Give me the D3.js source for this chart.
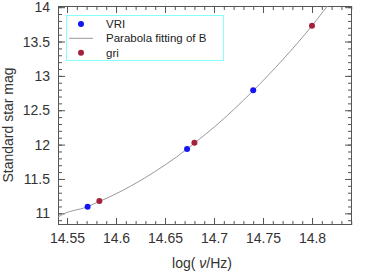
<!DOCTYPE html>
<html><head><meta charset="utf-8">
<script src="https://cdn.jsdelivr.net/npm/d3@7"></script>
<style>
body{margin:0;background:#fff;}
svg text{font-family:"Liberation Sans",Arial,sans-serif;}
</style></head>
<body><svg id="c" width="382" height="272"></svg>
<script>
// Data
const vriX = [14.571, 14.6725, 14.740];
const vriY = [11.096, 11.936, 12.79];
const griX = [14.583, 14.680, 14.800];
const griY = [11.179, 12.028, 13.73];
const fitX = [14.536, 14.5418, 14.5708, 14.583, 14.60, 14.6293, 14.6725, 14.680, 14.70, 14.740, 14.77, 14.800, 14.8157, 14.825];
const fitY = [10.89, 10.953, 11.096, 11.172, 11.284, 11.515, 11.936, 12.022, 12.253, 12.785, 13.234, 13.73, 14.017, 14.19];
const xTicks = [14.55, 14.6, 14.65, 14.7, 14.75, 14.8];
const yTicks = [11, 11.5, 12, 12.5, 13, 13.5, 14];
const legendLabels = ["VRI", "Parabola fitting of B", "gri"];

const L = 58, R = 352, T = 6, B = 225;
const svg = d3.select("#c");
const x = d3.scaleLinear().domain([14.5408, 14.8408]).range([L, R]);
const y = d3.scaleLinear().domain([10.83, 14.017]).range([B, T]);

const xMinor = d3.range(14.55, 14.8405, 0.01);
const yMinor = d3.range(10.9, 14.0005, 0.1);
const axisColor = "#555";

function styleAxis(g){
  g.select(".domain").remove();
  g.selectAll("line").attr("stroke", axisColor);
  g.selectAll("text").attr("fill", "#333").style("font-size","14px");
}
// minor ticks
svg.append("g").attr("transform",`translate(0,${B})`).call(d3.axisBottom(x).tickValues(xMinor).tickSize(-4).tickFormat("")).call(styleAxis);
svg.append("g").attr("transform",`translate(0,${T})`).call(d3.axisTop(x).tickValues(xMinor).tickSize(-4).tickFormat("")).call(styleAxis);
svg.append("g").attr("transform",`translate(${L},0)`).call(d3.axisLeft(y).tickValues(yMinor).tickSize(-4).tickFormat("")).call(styleAxis);
svg.append("g").attr("transform",`translate(${R},0)`).call(d3.axisRight(y).tickValues(yMinor).tickSize(-4).tickFormat("")).call(styleAxis);
// major ticks
svg.append("g").attr("transform",`translate(0,${B})`).call(d3.axisBottom(x).tickValues(xTicks).tickSize(-7).tickPadding(8).tickFormat(d3.format("~g"))).call(styleAxis);
svg.append("g").attr("transform",`translate(0,${T})`).call(d3.axisTop(x).tickValues(xTicks).tickSize(-7).tickFormat("")).call(styleAxis);
svg.append("g").attr("transform",`translate(${L},0)`).call(d3.axisLeft(y).tickValues(yTicks).tickSize(-7).tickPadding(8).tickFormat(d3.format("~g"))).call(styleAxis);
svg.append("g").attr("transform",`translate(${R},0)`).call(d3.axisRight(y).tickValues(yTicks).tickSize(-7).tickFormat("")).call(styleAxis);

// frame
svg.append("rect").attr("x",L+0.5).attr("y",T+0.5).attr("width",R-L-1).attr("height",B-T-1)
  .attr("fill","none").attr("stroke",axisColor).attr("stroke-width",1);

// clip
svg.append("clipPath").attr("id","clip").append("rect").attr("x",L).attr("y",T).attr("width",R-L).attr("height",B-T);

// fitted curve
const fit = fitX.map((d,i)=>[d,fitY[i]]);
svg.append("path").attr("clip-path","url(#clip)")
  .attr("d", d3.line().x(d=>x(d[0])).y(d=>y(d[1])).curve(d3.curveMonotoneX)(fit))
  .attr("fill","none").attr("stroke","#999").attr("stroke-width",1);

const blue = "#1414f5", red = "#a3213a";
svg.append("g").selectAll("circle").data(vriX.map((d,i)=>[d,vriY[i]])).join("circle")
  .attr("cx",d=>x(d[0])).attr("cy",d=>y(d[1])).attr("r",3).attr("fill",blue);
svg.append("g").selectAll("circle").data(griX.map((d,i)=>[d,griY[i]])).join("circle")
  .attr("cx",d=>x(d[0])).attr("cy",d=>y(d[1])).attr("r",3).attr("fill",red);

// legend
const lg = svg.append("g");
lg.append("rect").attr("x",66.5).attr("y",15.5).attr("width",157).attr("height",45)
  .attr("fill","#fff").attr("stroke","#8ff").attr("stroke-width",1);
const rows = [24, 38.3, 52.7];
lg.append("circle").attr("cx",81).attr("cy",rows[0]).attr("r",3).attr("fill",blue);
lg.append("line").attr("x1",69).attr("x2",93).attr("y1",rows[1]).attr("y2",rows[1]).attr("stroke","#999");
lg.append("circle").attr("cx",81).attr("cy",rows[2]).attr("r",3).attr("fill",red);
legendLabels.forEach((t,i)=>{
  lg.append("text").attr("x",106).attr("y",rows[i]).attr("dy","0.35em").style("font-size","11.5px").attr("fill","#222").text(t);
});

// axis titles
const xt = svg.append("text").attr("x",202).attr("y",268).attr("text-anchor","middle").style("font-size","14px").attr("fill","#333");
xt.append("tspan").text("log( ");
xt.append("tspan").style("font-style","italic").text("ν");
xt.append("tspan").text("/Hz)");
svg.append("text").attr("transform","translate(13,125) rotate(-90)").attr("text-anchor","middle")
  .style("font-size","14px").attr("fill","#333").text("Standard star mag");
</script></body></html>
